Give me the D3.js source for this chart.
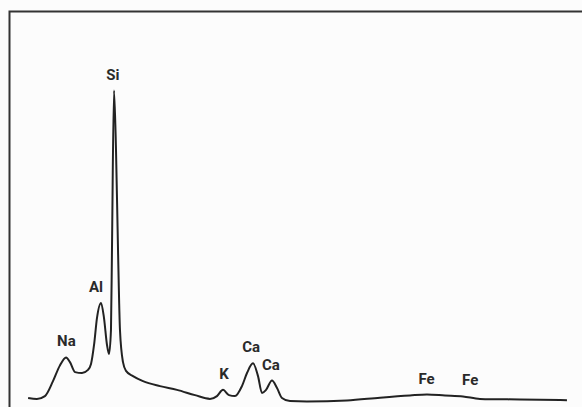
<!DOCTYPE html>
<html>
<head>
<meta charset="utf-8">
<script src="https://cdn.jsdelivr.net/npm/d3@7"></script>
<style>
  html, body { margin: 0; padding: 0; background: #fcfcfc; }
  svg { display: block; }
</style>
</head>
<body>
<div id="chart"></div>
<script>
// energy (keV) and counts
const energy = [0.47, 0.60, 0.72, 0.84, 0.94, 1.034, 1.093, 1.168, 1.272, 1.361, 1.406, 1.451,
  1.495, 1.555, 1.599, 1.644, 1.674, 1.703, 1.718, 1.748, 1.778, 1.808, 1.837, 1.882, 1.927,
  2.031, 2.18, 2.433, 2.686, 2.954, 3.177, 3.281, 3.371, 3.46, 3.549, 3.653, 3.728, 3.817,
  3.892, 3.951, 4.011, 4.1, 4.175, 4.249, 4.368, 4.621, 5.216, 5.708, 6.154, 6.407, 6.675,
  6.943, 7.196, 7.792, 8.491];
const counts = [13, 10, 19, 67, 116, 143, 128, 96, 93, 103, 122, 183,
  270, 318, 270, 183, 154, 231, 488, 1000, 809, 488, 231, 128, 100,
  83, 67, 51, 39, 22, 10, 19, 39, 22, 19, 51, 93, 124,
  83, 29, 39, 69, 45, 13, 3, 2, 5, 14, 21, 24, 21,
  18, 10, 8, 6];

// peak labels
const labelNames = ["Na", "Al", "Si", "K", "Ca", "Ca", "Fe", "Fe"];
const labelEnergy = [1.04, 1.48, 1.73, 3.385, 3.79, 4.085, 6.40, 7.05];
const labelCounts = [143, 318, 1000, 39, 124, 69, 24, 20];

const width = 582, height = 407;

const svg = d3.select("#chart").append("svg")
  .attr("width", width)
  .attr("height", height);

const x = d3.scaleLinear().domain([0.2, 8.7]).range([10, 581]);
const y = d3.scaleLinear().domain([0, 1000]).range([402, 90.5]);

// frame: top and left edges only
svg.append("path")
  .attr("d", "M9.5,407V11.5H582")
  .attr("fill", "none")
  .attr("stroke", "#333")
  .attr("stroke-width", 2);

const line = d3.line()
  .x((d, i) => x(energy[i]))
  .y(d => y(d))
  .curve(d3.curveMonotoneX);

svg.append("path")
  .datum(counts)
  .attr("d", line)
  .attr("fill", "none")
  .attr("stroke", "#222")
  .attr("stroke-width", 2)
  .attr("stroke-linejoin", "round");

svg.selectAll(".lbl")
  .data(labelNames)
  .enter()
  .append("text")
  .attr("class", "lbl")
  .attr("x", (d, i) => x(labelEnergy[i]))
  .attr("y", (d, i) => y(labelCounts[i]) - 11)
  .attr("text-anchor", "middle")
  .style("font-family", "Roboto, 'Liberation Sans', sans-serif")
  .style("font-weight", 700)
  .style("font-size", "15px")
  .attr("fill", "#2a2a2a")
  .text(d => d);
</script>
</body>
</html>
